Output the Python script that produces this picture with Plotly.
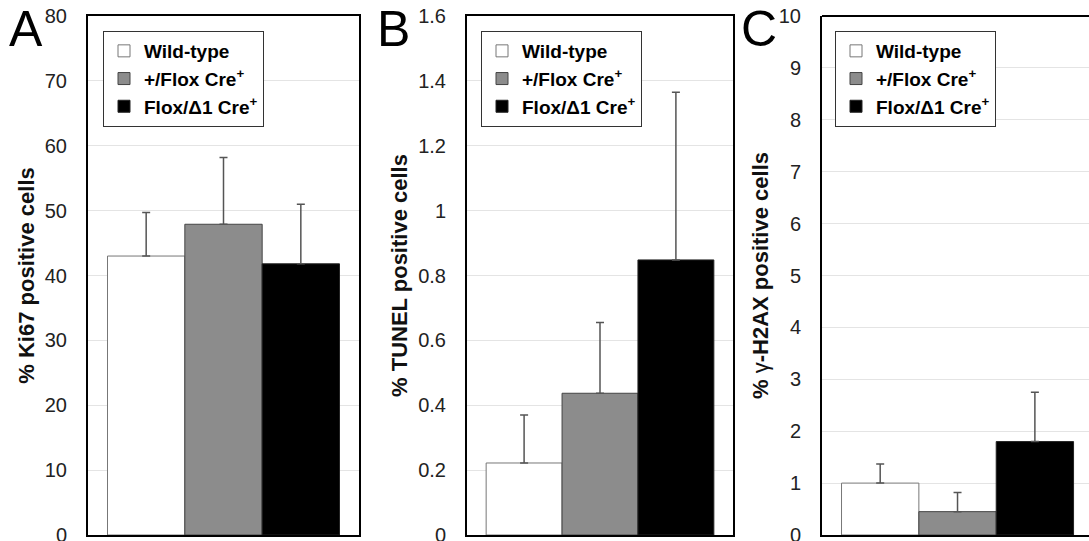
import plotly.graph_objects as go

# ---- data ----
groups = ["Wild-type", "+/Flox Cre<sup>+</sup>", "Flox/Δ1 Cre<sup>+</sup>"]
ki67 = [43.0, 47.9, 41.8]
ki67_err = [6.7, 10.3, 9.2]
tunel = [0.222, 0.437, 0.848]
tunel_err = [0.148, 0.218, 0.517]
h2ax = [1.0, 0.45, 1.8]
h2ax_err = [0.37, 0.37, 0.95]
panel_letters = ["A", "B", "C"]
y_titles = ["<b>% Ki67 positive cells</b>", "<b>% TUNEL positive cells</b>",
            "<b>% </b>γ<b>-H2AX positive cells</b>"]
y_ranges = [(0, 80, 10), (0, 1.6, 0.2), (0, 10, 1)]

# ---- styles ----
fills = ["#ffffff", "#8c8c8c", "#000000"]
outlines = ["#777777", "#444444", "#222222"]
W, H = 1089, 541
FONT = "Liberation Sans, Arial, Helvetica, sans-serif"

fig = go.Figure()
panels = [ki67, tunel, h2ax]
errs = [ki67_err, tunel_err, h2ax_err]
legend_ids = ["legend", "legend2", "legend3"]
for p in range(3):
    ax = "" if p == 0 else str(p + 1)
    for i, g in enumerate(groups):
        fig.add_trace(go.Bar(
            x=["g"], y=[panels[p][i]], name=g,
            marker=dict(color=fills[i], line=dict(color=outlines[i], width=1)),
            error_y=dict(type="data", array=[errs[p][i]], arrayminus=[0], symmetric=False,
                         color="#555555", thickness=1.5, width=4),
            xaxis="x" + ax, yaxis="y" + ax, legend=legend_ids[p],
        ))

# pixel layout
x_dom = [(88, 359), (467, 733), (822, 1089)]
y_top, y_bot = 16, 535
legend_pos = [103, 481, 835]
letter_x = [26, 393, 759]

def px(x):
    return x / W

def py(y):
    return 1 - y / H

layout = dict(
    width=W, height=H, margin=dict(l=0, r=0, t=0, b=0, autoexpand=False),
    paper_bgcolor="white", plot_bgcolor="white",
    barmode="group", bargap=0.144, bargroupgap=0,
    font=dict(family=FONT, color="#222222"),
    showlegend=True,
)
for p in range(3):
    ax = "" if p == 0 else str(p + 1)
    xr = [-0.5, 0.5] if p < 2 else [-0.5, 0.485]
    layout["xaxis" + ax] = dict(
        domain=[px(x_dom[p][0]), px(x_dom[p][1])], anchor="y" + ax,
        range=xr, showticklabels=False, ticks="", showgrid=False,
        showline=True, linecolor="#000000", linewidth=2, mirror=(p < 2),
        zeroline=False, fixedrange=True,
    )
    r0, r1, dt = y_ranges[p]
    layout["yaxis" + ax] = dict(
        domain=[py(y_bot), py(y_top)], anchor="x" + ax,
        range=[r0, r1], dtick=dt, tick0=0,
        showgrid=True, gridcolor="#e4e4e4", gridwidth=1,
        showline=True, linecolor="#000000", linewidth=2, mirror=(p < 2),
        ticks="", ticklabelstandoff=15, zeroline=False, ticklabeloverflow="allow",
        tickfont=dict(size=20, color="#222222", family=FONT),
        title=dict(text=y_titles[p], font=dict(size=22, color="#111111", family=FONT), standoff=4),
    )
    layout[legend_ids[p]] = dict(
        x=px(legend_pos[p]), y=py(31), xanchor="left", yanchor="top",
        bgcolor="white", bordercolor="#333333", borderwidth=1,
        font=dict(size=19, color="#000000", family=FONT, weight="bold"),
        tracegroupgap=0, itemclick=False, itemdoubleclick=False,
    )

fig.update_layout(**layout)

# top frame line for panel C (right edge is cut off in the reference)
fig.add_shape(type="line", xref="x3 domain", yref="y3 domain", x0=0, x1=1, y0=1, y1=1,
              line=dict(color="#000000", width=2))

for p in range(3):
    fig.add_annotation(text=panel_letters[p], xref="paper", yref="paper",
                       x=px(letter_x[p]), y=py(29), xanchor="center", yanchor="middle",
                       showarrow=False, font=dict(size=50, color="#000000", family=FONT))

fig.write_html("out.html")
